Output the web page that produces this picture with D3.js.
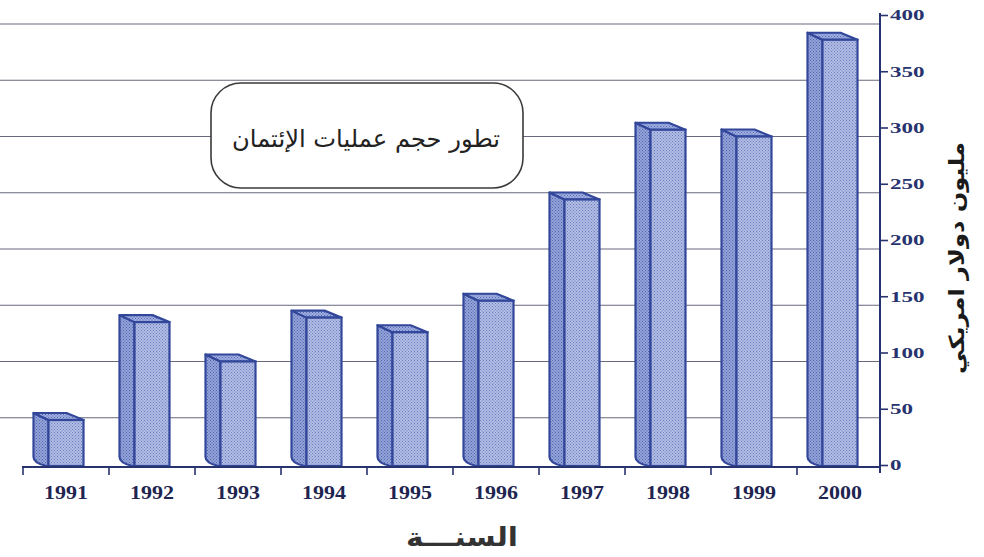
<!DOCTYPE html>
<html>
<head>
<meta charset="utf-8">
<script src="https://cdn.jsdelivr.net/npm/d3@7"></script>
<style>
  body { margin: 0; background: #fff; }
  svg { display: block; }
</style>
</head>
<body>
<div id="chart"></div>
<script>
var years = ["1991", "1992", "1993", "1994", "1995", "1996", "1997", "1998", "1999", "2000"];
var values = [40, 127, 92, 131, 118, 146, 236, 298, 292, 378];
var yTicks = [0, 50, 100, 150, 200, 250, 300, 350, 400];
var chartTitle = "تطور حجم عمليات الإئتمان";
var yTitle = "مليون دولار امريكي";
var xTitle = "السنـــة";

var w = 984, h = 557;
var navy = "#27336e";
var barLine = "#32479a";
var depthX = 15, depthY = 7;

var svg = d3.select("#chart").append("svg")
  .attr("width", w)
  .attr("height", h);

// stipple patterns for the bar faces
var defs = svg.append("defs");
function stipple(id, base, dot) {
  var p = defs.append("pattern")
    .attr("id", id)
    .attr("width", 3).attr("height", 3)
    .attr("patternUnits", "userSpaceOnUse");
  p.append("rect").attr("width", 3).attr("height", 3).attr("fill", base);
  p.append("rect").attr("x", 0).attr("y", 0).attr("width", 1).attr("height", 1).attr("fill", dot);
  p.append("rect").attr("x", 1.5).attr("y", 1.5).attr("width", 1).attr("height", 1).attr("fill", dot);
}
stipple("front", "#b2bde4", "#6a7cc2");
stipple("side", "#93a2d7", "#5165b5");
stipple("top", "#9fade0", "#5569b7");

var x = d3.scaleBand()
  .domain(years)
  .range([23, 883]);

var y = d3.scaleLinear()
  .domain([0, 400])
  .range([465, 15]);

var frontW = 35;
var axisX = 880;

// gridlines (drawn on the back wall, a little below the ticks)
svg.append("g")
  .selectAll("line")
  .data(yTicks.filter(function(d){ return d > 0; }))
  .enter()
  .append("line")
  .attr("x1", 0)
  .attr("x2", axisX)
  .attr("y1", function(d){ return y(d) + 9; })
  .attr("y2", function(d){ return y(d) + 9; })
  .attr("stroke", "#66687e")
  .attr("stroke-width", 1.2);

// title box
var box = svg.append("g");
box.append("rect")
  .attr("x", 211).attr("y", 83)
  .attr("width", 312).attr("height", 105)
  .attr("rx", 30).attr("ry", 30)
  .attr("fill", "#fff")
  .attr("stroke", "#3a3a3a")
  .attr("stroke-width", 1.6);
box.append("text")
  .attr("x", 366).attr("y", 140)
  .attr("text-anchor", "middle")
  .attr("dominant-baseline", "middle")
  .attr("direction", "rtl")
  .attr("font-family", "DejaVu Sans, sans-serif")
  .attr("font-size", 24)
  .attr("textLength", 268)
  .attr("lengthAdjust", "spacingAndGlyphs")
  .attr("fill", "#222")
  .text(chartTitle);

// bars
var bars = svg.append("g")
  .selectAll("g")
  .data(years)
  .enter()
  .append("g");

function fx(d) { return x(d) + x.bandwidth() / 2 - frontW / 2; }
function fy(d, i) { return y(values[i]); }

// left side face
bars.append("path")
  .attr("d", function(d, i){
    var x0 = fx(d), t = fy(d, i), b = y(0) + 1;
    return "M" + x0 + "," + t +
      "L" + (x0 - depthX) + "," + (t - depthY) +
      "L" + (x0 - depthX) + "," + (b - depthY - 2) +
      "Q" + (x0 - depthX) + "," + (b - 3) + " " + (x0 - 2) + "," + b +
      "L" + x0 + "," + b + "Z";
  })
  .attr("fill", "url(#side)")
  .attr("stroke", barLine)
  .attr("stroke-width", 2.2)
  .attr("stroke-linejoin", "round");

// top face
bars.append("path")
  .attr("d", function(d, i){
    var x0 = fx(d), t = fy(d, i);
    return "M" + x0 + "," + t +
      "L" + (x0 - depthX) + "," + (t - depthY) +
      "L" + (x0 - depthX + frontW - 2) + "," + (t - depthY) +
      "L" + (x0 + frontW) + "," + t + "Z";
  })
  .attr("fill", "url(#top)")
  .attr("stroke", barLine)
  .attr("stroke-width", 2.2)
  .attr("stroke-linejoin", "round");

// front face
bars.append("rect")
  .attr("x", function(d){ return fx(d); })
  .attr("y", function(d, i){ return fy(d, i); })
  .attr("width", frontW)
  .attr("height", function(d, i){ return y(0) + 1 - fy(d, i); })
  .attr("fill", "url(#front)")
  .attr("stroke", barLine)
  .attr("stroke-width", 2.2);

// x axis
var xAxis = svg.append("g");
xAxis.append("line")
  .attr("x1", 22).attr("x2", axisX)
  .attr("y1", 467).attr("y2", 467)
  .attr("stroke", navy)
  .attr("stroke-width", 1.8);
xAxis.selectAll("line.tick")
  .data(years)
  .enter()
  .append("line")
  .attr("class", "tick")
  .attr("x1", function(d){ return x(d); })
  .attr("x2", function(d){ return x(d); })
  .attr("y1", 467).attr("y2", 475)
  .attr("stroke", navy)
  .attr("stroke-width", 1.6);
xAxis.selectAll("text")
  .data(years)
  .enter()
  .append("text")
  .attr("x", function(d){ return x(d) + x.bandwidth() / 2; })
  .attr("y", 499)
  .attr("text-anchor", "middle")
  .attr("font-family", "Liberation Serif, serif")
  .attr("font-weight", "bold")
  .attr("font-size", 18)
  .attr("textLength", 44)
  .attr("lengthAdjust", "spacingAndGlyphs")
  .attr("fill", "#1e2550")
  .text(function(d){ return d; });

// y axis on the right
var yAxis = svg.append("g")
  .attr("transform", "translate(" + axisX + ",0)")
  .call(d3.axisRight(y).tickValues(yTicks).tickSize(8).tickSizeOuter(0).tickPadding(2));
yAxis.select(".domain").remove();
yAxis.selectAll(".tick line")
  .attr("x1", -1)
  .attr("stroke", navy)
  .attr("stroke-width", 1.6);
yAxis.selectAll(".tick text")
  .attr("font-family", "Liberation Serif, serif")
  .attr("font-weight", "bold")
  .attr("font-size", 15)
  .attr("textLength", function(d){ return String(d).length * 11.5; })
  .attr("lengthAdjust", "spacingAndGlyphs")
  .attr("fill", navy);
yAxis.append("line")
  .attr("x1", 0).attr("x2", 0)
  .attr("y1", 13).attr("y2", 473)
  .attr("stroke", navy)
  .attr("stroke-width", 2);

// axis titles
svg.append("text")
  .attr("transform", "translate(958,258) rotate(-90)")
  .attr("text-anchor", "middle")
  .attr("dominant-baseline", "middle")
  .attr("direction", "rtl")
  .attr("font-family", "DejaVu Sans, sans-serif")
  .attr("font-weight", "bold")
  .attr("font-size", 21)
  .attr("textLength", 232)
  .attr("lengthAdjust", "spacingAndGlyphs")
  .attr("fill", "#1a1a1a")
  .text(yTitle);

svg.append("text")
  .attr("x", 462).attr("y", 538)
  .attr("text-anchor", "middle")
  .attr("dominant-baseline", "middle")
  .attr("direction", "rtl")
  .attr("font-family", "DejaVu Sans, sans-serif")
  .attr("font-weight", "bold")
  .attr("font-size", 26)
  .attr("textLength", 112)
  .attr("lengthAdjust", "spacingAndGlyphs")
  .attr("fill", "#333")
  .text(xTitle);
</script>
</body>
</html>
